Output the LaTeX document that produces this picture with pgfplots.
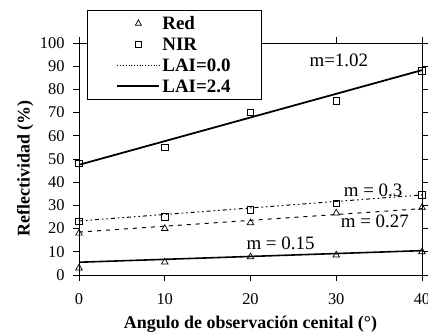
\documentclass[border=0pt]{standalone}
\usepackage{fontspec}
\setmainfont{Liberation Serif}
\usepackage{pgfplots}
\pgfplotsset{compat=1.18}
\begin{document}
\begin{tikzpicture}
\useasboundingbox (-79bp,-59bp) rectangle (349bp,275bp);
\begin{axis}[
 at={(0,0)}, anchor=south west,
 scale only axis, width=343bp, height=232bp,
 xmin=0, xmax=40, ymin=0, ymax=100,
 xtick={0,10,...,40}, ytick={0,10,...,100},
 tick align=outside, major tick length=6bp,
 tick style={black, line width=0.8pt},
 axis line style={line width=0.8pt},
 /pgf/number format/assume math mode=true,
 ticklabel style={font=\fontsize{16.5}{16.5}\selectfont},
 xticklabel style={yshift=-9bp},
 yticklabel style={xshift=-5bp},
 xlabel={Angulo de observación cenital (°)},
 ylabel={Reflectividad (\%)},
 label style={font=\fontsize{18}{18}\selectfont\bfseries},
 xlabel style={at={(axis description cs:0.5,-0.211)}, anchor=center},
 ylabel style={at={(axis description cs:-0.157,0.46)}, anchor=center, rotate=0},
 legend style={at={(axis description cs:0.0233,1.142)}, anchor=north west,
   draw=black, line width=0.8pt, fill=white,
   font=\fontsize{19}{19}\selectfont\bfseries, legend cell align=left,
   inner xsep=29bp, inner ysep=6bp, row sep=7bp,
   nodes={inner ysep=0bp, text height=13bp, text depth=1bp}},
 legend cell align=left,
]
\addlegendimage{legend image code/.code={\path[draw=none,fill=none] (0bp,-1bp) rectangle (42bp,1bp); \path[black, line width=0.7pt, draw, fill=none] plot[only marks, mark=triangle, mark size=3.5bp] coordinates {(21bp,0bp)};}}
\addlegendentry{Red}
\addlegendimage{legend image code/.code={\path[draw=none,fill=none] (0bp,-1bp) rectangle (42bp,1bp); \path[black, line width=0.7pt, draw, fill=none] plot[only marks, mark=square, mark size=3bp] coordinates {(21bp,0bp)};}}
\addlegendentry{NIR}
\addlegendimage{legend image code/.code={\draw[black, line width=0.8pt, dotted] (0bp,0bp) -- (42bp,0bp);}}
\addlegendentry{LAI=0.0}
\addlegendimage{legend image code/.code={\path[draw=black, line width=2pt] (0bp,0bp) -- (42bp,0bp);}}
\addlegendentry{LAI=2.4}
% regression lines
\addplot[forget plot, black, line width=1.8pt] coordinates {(0,47.5) (40,88.3)};
\addplot[forget plot, black, line width=1.6pt] coordinates {(0,5.5) (40,10.5)};
\addplot[forget plot, black, line width=1pt, dash pattern=on 4bp off 3bp on 1.5bp off 3bp on 1.5bp off 3bp] coordinates {(0,23.3) (40,34.5)};
\addplot[forget plot, black, line width=1pt, dash pattern=on 4bp off 5bp] coordinates {(0,18.5) (40,28.6)};
% points
\addplot[forget plot, only marks, mark=square, mark size=3.2bp, black, line width=0.7pt, mark options={fill=white}] coordinates {(0,48) (10,55) (20,70) (30,75) (40,88)};
\addplot[forget plot, only marks, mark=square, mark size=3.2bp, black, line width=0.7pt, mark options={fill=white}] coordinates {(0,23) (10,25) (20,28) (30,31) (40,34.5)};
\addplot[forget plot, only marks, mark=triangle, mark size=3.8bp, black, line width=0.7pt, mark options={fill=white}] coordinates {(0,18) (10,20) (20,22.5) (30,26.7) (40,29)};
\addplot[forget plot, only marks, mark=triangle, mark size=3.8bp, black, line width=0.7pt, mark options={fill=white}] coordinates {(0,3) (10,5.6) (20,7.8) (30,8.6) (40,10)};
% annotations
\node[font=\fontsize{19}{19}\selectfont] at (axis cs:30.3,92.7) {m=1.02};
\node[font=\fontsize{19}{19}\selectfont] at (axis cs:34.3,36.6) {m = 0.3};
\node[font=\fontsize{19}{19}\selectfont] at (axis cs:34.5,23) {m = 0.27};
\node[font=\fontsize{19}{19}\selectfont] at (axis cs:23.5,13.5) {m = 0.15};
\end{axis}
\end{tikzpicture}
\end{document}
